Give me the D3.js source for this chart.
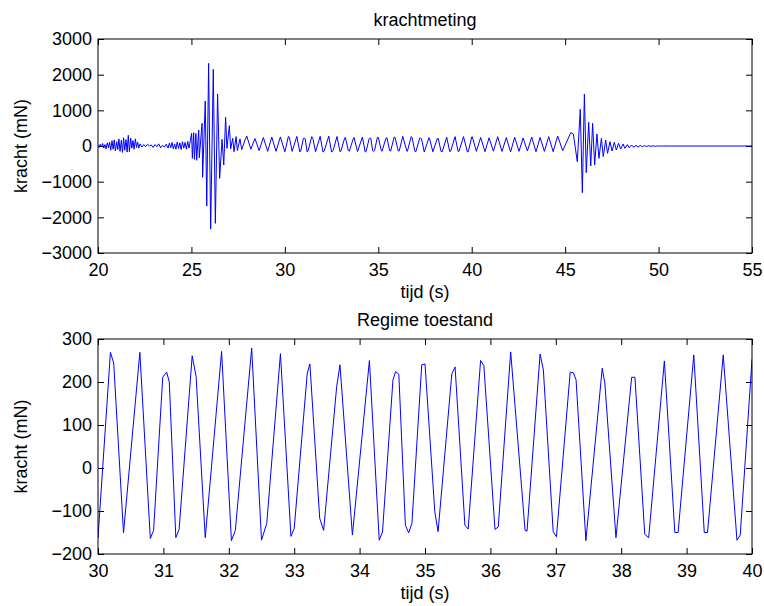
<!DOCTYPE html>
<html>
<head>
<meta charset="utf-8">
<script src="https://cdn.jsdelivr.net/npm/d3@7/dist/d3.min.js"></script>
<style>
  body { margin: 0; background: #fff; }
  text { font-family: "Liberation Sans", Arial, Helvetica, sans-serif; }
</style>
</head>
<body>
<svg id="chart" width="764" height="606"></svg>
<script>
var tijd = [
  20.00, 20.06, 20.12, 20.18, 20.25, 20.31, 20.37, 20.43, 20.50, 20.56, 20.62, 20.68, 20.75, 20.81, 20.87, 20.93,
  21.00, 21.06, 21.12, 21.18, 21.25, 21.31, 21.37, 21.43, 21.50, 21.56, 21.62, 21.68, 21.75, 21.81, 21.87, 21.93,
  22.00, 22.06, 22.12, 22.18, 22.25, 22.35, 22.45, 22.55, 22.65, 22.75, 22.85, 22.95,
  23.05, 23.15, 23.25, 23.35, 23.45, 23.55, 23.65, 23.75, 23.82, 23.89, 23.96,
  24.03, 24.10, 24.17, 24.24, 24.31, 24.38, 24.45, 24.52, 24.59, 24.66, 24.73, 24.80, 24.87, 24.94,
  25.01, 25.05, 25.12, 25.16, 25.24, 25.28, 25.39, 25.42, 25.57, 25.60, 25.74, 25.82, 25.92,
  26.03, 26.17, 26.28, 26.40, 26.51, 26.64, 26.73, 26.83, 26.90,
  27.03, 27.10, 27.21, 27.28, 27.39, 27.46, 27.60, 27.69, 27.87, 27.96,
  28.18, 28.40, 28.62, 28.85, 29.08, 29.30, 29.53, 29.76,
  30.00, 30.19, 30.24, 30.39, 30.64, 30.80, 30.85, 30.99, 31.05, 31.09, 31.19, 31.24, 31.44, 31.50, 31.64, 31.89,
  32.04, 32.10, 32.35, 32.50, 32.58, 32.79, 32.95, 33.00, 33.20, 33.24, 33.39, 33.45, 33.65, 33.70, 33.89,
  34.15, 34.30, 34.35, 34.51, 34.55, 34.60, 34.70, 34.75, 34.80, 34.95, 35.00, 35.15, 35.20, 35.41, 35.46,
  35.61, 35.66, 35.85, 35.90, 36.07, 36.12, 36.31, 36.53, 36.56, 36.76, 36.81, 36.96, 37.01, 37.22, 37.27,
  37.31, 37.46, 37.71, 37.75, 37.92, 38.16, 38.21, 38.36, 38.42, 38.66, 38.82, 38.87, 39.11, 39.27, 39.32,
  39.56, 39.77, 39.82, 40.00,
  40.03, 40.25, 40.48, 40.71, 40.93, 41.16, 41.39, 41.62, 41.85, 42.08, 42.30, 42.53, 42.75, 42.98,
  43.21, 43.44, 43.66, 43.89, 44.12, 44.36, 44.60, 44.87, 45.30, 45.44, 45.65,
  45.81, 45.92, 46.03, 46.13, 46.26, 46.37, 46.47, 46.58, 46.70, 46.81, 46.94, 47.04, 47.17, 47.27,
  47.40, 47.51, 47.63, 47.74, 47.86, 47.97, 48.10, 48.20, 48.33, 48.43, 48.56, 48.67, 48.79, 48.90,
  49.02, 49.13, 49.25, 49.36, 49.48, 49.59, 49.71, 49.82, 49.94, 50.05, 50.17, 50.28, 50.40, 50.51,
  50.70, 55.00
];
var kracht = [
  20, -40, 50, -30, 70, -60, 40, -80, 90, -50, 110, -120, 150, -90, 170, -140,
  120, -100, 200, -150, 160, -180, 230, -120, 180, -170, 300, -160, 220, -60, 150, -90,
  200, -40, 110, -60, 60, -30, 40, -20, 50, 0, 30, -40,
  40, -20, 60, -50, 20, -30, 50, -60, 80, -50, 100,
  -80, 60, -90, 110, -70, 90, -100, 120, -60, 100, -90, 130, -60, 150,
  355, -346, 374, -374, 350, -400, 449, -330, 636, -879, 1262, -1683, 2319,
  -2328, 2150, -2169, 1459, -907, 187, -533, 804, -65,
  570, -80, 215, -159, 262, -130, 200, -100, 170, 280,
  -90, 210, -130, 240, -150, 250, -150, 255,
  -162, 269, 244, -151, 269, -164, -145, 211, 223, 200, -162, -143, 261, 213, -162, 271,
  -169, -145, 279, -168, -129, 266, -159, -141, 221, 242, -117, -145, 190, 240, -156,
  250, -168, -149, 205, 224, 218, -133, -151, -129, 240, 242, -102, -148, 219, 235,
  -133, -142, 250, 238, -143, -137, 270, -145, -147, 265, 228, -148, -160, 223, 221,
  205, -169, 232, 197, -162, 211, 211, -154, -162, 249, -150, -150, 263, -150, -150,
  263, -168, -156, 252,
  260, -150, 240, -160, 230, -145, 260, -155, 235, -165, 245, -150, 225, -140,
  250, -160, 240, -150, 262, -159, 280, -131, 374, 336, -440,
  1029, -1309, 1459, -748, 664, -561, 636, -533, 337, -346, 215, -299, 168, -206,
  122, -140, 103, -112, 75, -84, 56, -65, 37, -47, 28, -37, 19, -28,
  15, -20, 12, -15, 9, -11, 7, -8, 5, -5, 3, -3, 2, -2,
  0, 0
];

var topXTicks = [20, 25, 30, 35, 40, 45, 50, 55],
  topYTicks = [-3000, -2000, -1000, 0, 1000, 2000, 3000],
  botXTicks = [30, 31, 32, 33, 34, 35, 36, 37, 38, 39, 40],
  botYTicks = [-200, -100, 0, 100, 200, 300];

var data = tijd.map(function (t, i) { return { t: t, f: kracht[i] }; });

var svg = d3.select("#chart");

function drawPanel(id, box, xDomain, yDomain, xTicks, yTicks, title) {
  var x = d3.scaleLinear().domain(xDomain).range([0, box.w]),
    y = d3.scaleLinear().domain(yDomain).range([box.h, 0]);

  var g = svg.append("g")
    .attr("transform", "translate(" + box.left + "," + box.top + ")");

  g.append("clipPath").attr("id", id)
    .append("rect").attr("width", box.w).attr("height", box.h);

  var fmt = d3.format("d");

  g.append("g")
    .attr("transform", "translate(0," + box.h + ")")
    .call(d3.axisBottom(x).tickValues(xTicks).tickFormat(fmt).tickSize(-6).tickPadding(10));
  g.append("g")
    .call(d3.axisTop(x).tickValues(xTicks).tickFormat("").tickSize(-6));
  g.append("g")
    .call(d3.axisLeft(y).tickValues(yTicks).tickFormat(fmt).tickSize(-6).tickPadding(6));
  g.append("g")
    .attr("transform", "translate(" + box.w + ",0)")
    .call(d3.axisRight(y).tickValues(yTicks).tickFormat("").tickSize(-6));

  g.selectAll(".domain").remove();
  g.selectAll(".tick line").attr("stroke", "#000");
  g.selectAll(".tick text")
    .attr("fill", "#000")
    .style("font-size", "18px");

  var pts = data.filter(function (d) { return d.t >= xDomain[0] - 0.5 && d.t <= xDomain[1] + 0.5; });

  g.append("path")
    .datum(pts)
    .attr("clip-path", "url(#" + id + ")")
    .attr("fill", "none")
    .attr("stroke", "#0000ff")
    .attr("stroke-width", 1)
    .attr("stroke-linejoin", "round")
    .attr("d", d3.line()
      .x(function (d) { return x(d.t); })
      .y(function (d) { return y(d.f); }));

  g.append("rect")
    .attr("width", box.w)
    .attr("height", box.h)
    .attr("fill", "none")
    .attr("stroke", "#000")
    .attr("stroke-width", 1);

  g.append("text")
    .attr("x", box.w / 2)
    .attr("y", -13)
    .attr("text-anchor", "middle")
    .style("font-size", "18px")
    .text(title);

  g.append("text")
    .attr("x", box.w / 2)
    .attr("y", box.h + 45)
    .attr("text-anchor", "middle")
    .style("font-size", "18px")
    .text("tijd (s)");

  g.append("text")
    .attr("transform", "translate(" + (-71) + "," + (box.h / 2) + ") rotate(-90)")
    .attr("text-anchor", "middle")
    .style("font-size", "18px")
    .text("kracht (mN)");
}

drawPanel("clip-top", { left: 98, top: 39, w: 654, h: 214 }, [20, 55], [-3000, 3000],
  topXTicks, topYTicks, "krachtmeting");
drawPanel("clip-bot", { left: 98, top: 339, w: 654, h: 215 }, [30, 40], [-200, 300],
  botXTicks, botYTicks, "Regime toestand");
</script>
</body>
</html>
